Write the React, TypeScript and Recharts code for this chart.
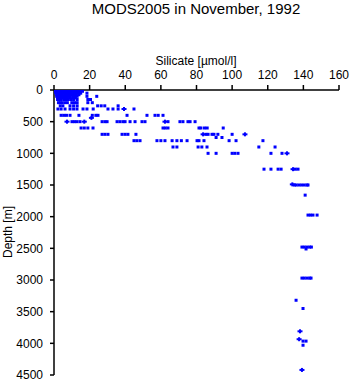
import { ScatterChart, Scatter, XAxis, YAxis } from 'recharts';

// depth levels [m] and the silicate readings [µmol/l] found at each
const depths = [0, 10, 20, 30, 50, 75, 100, 125, 150, 200, 250, 300, 400, 440, 500, 600, 700, 750, 800, 900, 1000, 1250, 1500, 1660, 1975, 2480, 2510, 2970, 3320, 3450, 3810, 3940, 3965, 4030, 4420];

const silicate = [
  [0.5, 1, 1.5, 2, 2.5, 3, 3.5, 4, 4.5, 5, 6, 7, 8, 9, 10, 11, 12, 13, 14, 15, 16],
  [0.5, 1.2, 2, 2.8, 3.5, 4.5, 5.5, 6.5, 7.5, 8.5, 9.5, 11, 12, 13.5, 15],
  [0.8, 1.5, 2.3, 3, 4, 5, 6, 7, 8, 9, 10.5, 12, 13, 14.5, 16],
  [1, 2, 3, 4, 5, 6.5, 7.5, 8.5, 10, 11.5, 13, 14.5],
  [1, 2, 3, 4, 5, 6, 7, 8, 9, 10, 11, 12, 13, 14, 15, 18.5],
  [1.5, 2.5, 3.5, 4.5, 6, 7, 8.5, 9.5, 11, 12.5, 14],
  [1.5, 2.5, 3.5, 4.5, 5.5, 7, 8, 9, 10.5, 12, 13, 18.5, 24],
  [2, 3, 4, 5, 6, 7.5, 9, 10.5, 12],
  [2, 3, 4, 5.5, 6.5, 8, 9.5, 11, 13, 19, 20.5],
  [2.5, 3.5, 4.5, 6, 7.5, 10, 11.5, 13, 19, 21.5],
  [3.5, 5, 9, 11, 13, 24.5, 26.5, 28.5, 36],
  [2.2, 4, 6.2, 9, 11, 12.9, 16.3, 18.5, 22, 30.3, 33.1, 36, 44.9],
  [4, 5.5, 7, 9, 14, 21.5, 23.5, 24.7, 41, 52.2, 56.7, 58.5, 61.2],
  [],
  [10.1, 11.5, 12.9, 14.6, 27, 28.6, 29.8, 35.4, 37, 38.7, 39.9, 42.7, 45.5, 49.4, 51.1, 64, 70.7, 72.4, 75.2, 76.4, 79.2],
  [15.2, 17, 19, 21.9, 61.2, 62.5, 64, 81.4, 82.5, 84.5, 86, 95],
  [27, 28.6, 30.3, 38.2, 39.9, 41.5, 46, 85.3, 86.5, 88.7, 89.8, 92, 100],
  [91, 94.3],
  [44.9, 46.5, 48.3, 57.8, 60, 62.3, 66.3, 69, 71.5, 74.7, 80.3, 81.4, 84.2, 98.3, 102.2, 117.3],
  [66.8, 69, 80.9, 83, 85.9, 115, 124.1],
  [86.5, 91, 100, 101.5, 103.3, 121.8, 128],
  [117.9, 121.8, 125.8, 127.5, 135.5, 137],
  [135, 136, 137.5, 139, 140.5, 142, 142.6],
  [141],
  [142.6, 144, 145.4, 147.7],
  [139.2, 140.5, 142, 143.5, 144.5],
  [141.5],
  [139.2, 140.5, 142, 143.5, 144.3],
  [135.9],
  [139.8],
  [],
  [],
  [139.8, 141.5],
  [139.8],
  [],
];

// readings drawn with a plus marker (overlapping casts)
const plusDepths = [300, 440, 500, 500, 500, 700, 700, 1000, 1250, 1490, 3810, 3935, 4420];
const plusSilicate = [39.3, 21, 7.3, 17, 62.3, 83.7, 107.2, 130.8, 134.2, 133.8, 138.1, 137.6, 139.2];

const xTicks = [0, 20, 40, 60, 80, 100, 120, 140, 160];
const yTicks = [0, 500, 1000, 1500, 2000, 2500, 3000, 3500, 4000, 4500];

const points = depths.flatMap((d, i) => silicate[i].map((s) => ({ si: s, depth: d })));
const plusPoints = plusDepths.map((d, i) => ({ si: plusSilicate[i], depth: d }));

const BLUE = '#0000ff';

const Square = (props: any) => {
  const { cx, cy } = props;
  return <rect x={cx - 1.5} y={cy - 1.5} width={3} height={3} fill={BLUE} />;
};

const Plus = (props: any) => {
  const { cx, cy } = props;
  return (
    <g fill={BLUE}>
      <rect x={cx - 2.5} y={cy - 1} width={5} height={2} />
      <rect x={cx - 1} y={cy - 2} width={2} height={4} />
    </g>
  );
};

const tickStyle = { fill: '#000', fontSize: 12 };

export default function App() {
  return (
    <div
      style={{
        position: 'absolute',
        left: 0,
        top: 0,
        width: 351,
        height: 384,
        background: '#fff',
        fontFamily: '"Liberation Sans", Arial, sans-serif',
      }}
    >
      <div style={{ position: 'absolute', left: 196, top: 1, transform: 'translateX(-50%)', fontSize: 15, lineHeight: '16px', whiteSpace: 'nowrap' }}>
        MODS2005 in November, 1992
      </div>
      <div style={{ position: 'absolute', left: 196, top: 54, transform: 'translateX(-50%)', fontSize: 12, lineHeight: '14px', whiteSpace: 'nowrap' }}>
        Silicate [µmol/l]
      </div>
      <div style={{ position: 'absolute', left: 8, top: 232, transform: 'translate(-50%, -50%) rotate(-90deg)', fontSize: 12, lineHeight: '14px', whiteSpace: 'nowrap' }}>
        Depth [m]
      </div>
      <ScatterChart width={351} height={384} margin={{ top: 60, right: 12, bottom: 9, left: 0 }}>
        <XAxis
          type="number"
          dataKey="si"
          orientation="top"
          domain={[0, 160]}
          ticks={xTicks}
          height={30}
          tickSize={5}
          tickMargin={6}
          tick={tickStyle}
          axisLine={{ stroke: '#000', strokeWidth: 1.5 }}
          tickLine={{ stroke: '#000', strokeWidth: 1.5 }}
          allowDataOverflow
        />
        <YAxis
          type="number"
          dataKey="depth"
          reversed
          domain={[0, 4500]}
          ticks={yTicks}
          width={54}
          tickSize={4}
          tickMargin={7}
          tick={tickStyle}
          axisLine={{ stroke: '#000', strokeWidth: 1.5 }}
          tickLine={{ stroke: '#000', strokeWidth: 1.5 }}
          allowDataOverflow
        />
        <Scatter data={points} shape={Square} isAnimationActive={false} />
        <Scatter data={plusPoints} shape={Plus} isAnimationActive={false} />
      </ScatterChart>
    </div>
  );
}
